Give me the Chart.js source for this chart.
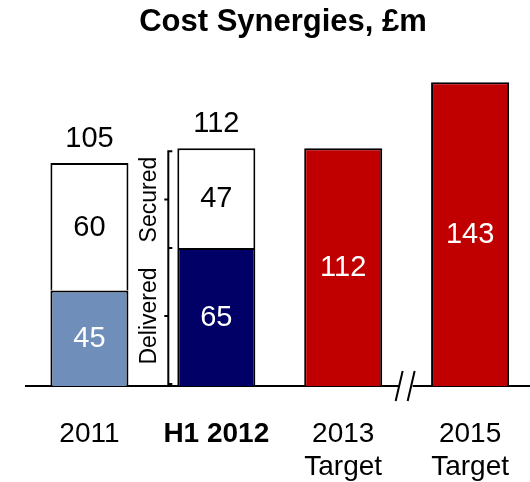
<!DOCTYPE html>
<html>
<head>
<meta charset="utf-8">
<script src="https://cdn.jsdelivr.net/npm/chart.js@4"></script>
<style>
  html, body { margin: 0; padding: 0; background: #fff; overflow: hidden; }
  #wrap { width: 540px; height: 482px; }
</style>
</head>
<body>
<div id="wrap"><canvas id="synergyChart"></canvas></div>
<script>
const categories = [["2011"], ["H1 2012"], ["2013", "Target"], ["2015", "Target"]];
const delivered = [45, 65, 112, 143];
const secured = [60, 47, null, null];
const totals = [105, 112, null, null];
const bracketLabels = ["Delivered", "Secured"];

const FONT = "Arial, 'Liberation Sans', sans-serif";
const BLACK = "#000000";

// value labels, bracket and axis break
const decorations = {
  id: "decorations",
  afterDatasetsDraw(chart) {
    const ctx = chart.ctx;
    const low = chart.getDatasetMeta(0).data;
    const high = chart.getDatasetMeta(1).data;
    ctx.save();
    ctx.textAlign = "center";
    ctx.textBaseline = "middle";
    ctx.font = "29px " + FONT;

    low.forEach((bar, i) => {
      ctx.fillStyle = "#ffffff";
      ctx.fillText(String(delivered[i]), bar.x, (bar.y + bar.base) / 2 + 1);
    });
    high.forEach((bar, i) => {
      if (secured[i] == null) return;
      ctx.fillStyle = BLACK;
      ctx.fillText(String(secured[i]), bar.x, (bar.y + bar.base) / 2 + 1);
      ctx.fillText(String(totals[i]), bar.x, bar.y - 24);
    });

    // bracket next to H1 2012
    const d = low[1], s = high[1];
    const left = d.x - d.width / 2;
    const bx = left - 9;
    const top = s.y + 3, bottom = d.base - 2, mid = d.y;
    ctx.strokeStyle = BLACK;
    ctx.lineWidth = 2;
    ctx.beginPath();
    ctx.moveTo(bx + 4, top); ctx.lineTo(bx, top); ctx.lineTo(bx, bottom); ctx.lineTo(bx + 4, bottom);
    ctx.moveTo(bx, mid); ctx.lineTo(bx + 4, mid);
    ctx.moveTo(bx, (top + mid) / 2); ctx.lineTo(bx - 4, (top + mid) / 2);
    ctx.moveTo(bx, (mid + bottom) / 2); ctx.lineTo(bx - 4, (mid + bottom) / 2);
    ctx.stroke();

    ctx.fillStyle = BLACK;
    ctx.font = "23px " + FONT;
    [[bracketLabels[0], (mid + bottom) / 2], [bracketLabels[1], (top + mid) / 2]].forEach(([t, cy]) => {
      ctx.save();
      ctx.translate(left - 29, cy);
      ctx.rotate(-Math.PI / 2);
      ctx.fillText(t, 0, 1);
      ctx.restore();
    });

    // axis break between the two targets
    const b3 = low[2], b4 = low[3];
    const gx = ((b3.x + b3.width / 2) + (b4.x - b4.width / 2)) / 2;
    const gy = chart.chartArea.bottom;
    ctx.fillStyle = "#ffffff";
    ctx.fillRect(gx - 7, gy - 3, 13, 6);
    ctx.beginPath();
    ctx.moveTo(gx - 11, gy + 15); ctx.lineTo(gx - 4, gy - 15);
    ctx.moveTo(gx + 1, gy + 15); ctx.lineTo(gx + 8, gy - 15);
    ctx.stroke();
    ctx.restore();
  }
};

new Chart(document.getElementById("synergyChart"), {
  type: "bar",
  data: {
    labels: categories,
    datasets: [
      {
        label: "Delivered",
        data: delivered,
        backgroundColor: ["#6f8eb9", "#000066", "#c00000", "#c00000"],
        borderColor: BLACK,
        borderWidth: 2,
        borderSkipped: "bottom"
      },
      {
        label: "Secured",
        data: secured,
        backgroundColor: "#ffffff",
        borderColor: BLACK,
        borderWidth: 2,
        borderSkipped: "bottom"
      }
    ]
  },
  options: {
    responsive: true,
    maintainAspectRatio: false,
    animation: false,
    datasets: { bar: { barPercentage: 0.615, categoryPercentage: 1.0 } },
    layout: { padding: { left: 26, right: 0, top: 0, bottom: 0 } },
    plugins: {
      legend: { display: false },
      tooltip: { enabled: false },
      title: {
        display: true,
        text: "Cost Synergies, £m",
        color: BLACK,
        font: { family: FONT, size: 31, weight: "bold" },
        padding: { top: 4, bottom: 5 }
      }
    },
    scales: {
      x: {
        stacked: true,
        grid: { display: false, drawTicks: false },
        border: { display: true, color: BLACK, width: 2 },
        afterFit: (scale) => { scale.height = 96; },
        ticks: {
          color: BLACK,
          padding: 31,
          maxRotation: 0,
          autoSkip: false,
          font: (c) => ({ family: FONT, size: 28, weight: c.index === 1 ? "bold" : "normal", lineHeight: 1.2 })
        }
      },
      y: {
        stacked: true,
        display: false,
        min: 0,
        max: 160
      }
    }
  },
  plugins: [decorations]
});
</script>
</body>
</html>
